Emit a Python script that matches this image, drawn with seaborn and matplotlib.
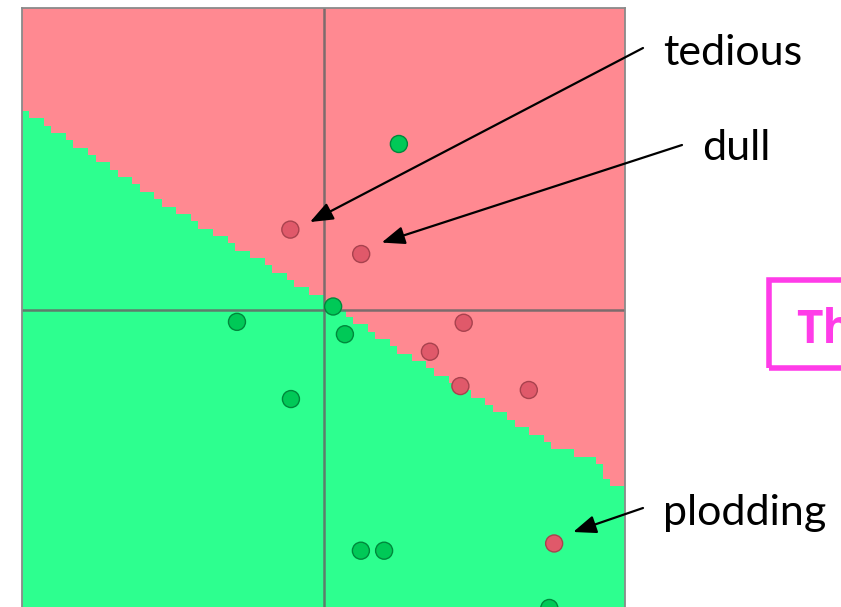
import numpy as np
import pandas as pd
import matplotlib
matplotlib.use("Agg")
import matplotlib.pyplot as plt
import seaborn as sns
from matplotlib.colors import ListedColormap
from matplotlib.patches import Rectangle

# -------------------------
# data (axes span -1..1 on both sides)
# -------------------------
green_x = [0.250, 0.032, -0.287, 0.071, -0.108, 0.124, 0.201, 0.749]
green_y = [0.549, 0.010, -0.041, -0.082, -0.297, -0.800, -0.800, -0.990]

red_x = [-0.110, 0.125, 0.465, 0.353, 0.454, 0.681, 0.765]
red_y = [0.265, 0.184, -0.044, -0.140, -0.254, -0.267, -0.776]

# decision boundary knots (left of/below -> green region)
boundary_x = [-1.0, -0.542, -0.012, 0.254, 0.585, 0.784, 0.910, 0.937, 1.0]
boundary_y = [0.665, 0.360, 0.041, -0.134, -0.343, -0.466, -0.489, -0.565, -0.589]

# annotated words: label, arrow tip (data), arrow tail (fig px), text anchor (fig px)
words = ["tedious", "dull", "plodding"]
word_tips = [(-0.045, 0.290), (0.193, 0.222), (0.828, -0.738)]
word_tails = [(643, 559), (682, 462), (643, 99)]
word_pos = [(663, 542), (702, 447), (663, 82)]

points = pd.DataFrame({
    "x": green_x + red_x,
    "y": green_y + red_y,
    "label": ["pos"] * len(green_x) + ["neg"] * len(red_x),
})

# -------------------------
# figure
# -------------------------
sns.set_style("white")
plt.rcParams["font.family"] = ["Lato", "DejaVu Sans"]

W, H = 841, 607
fig = plt.figure(figsize=(W / 100, H / 100), dpi=100)
ax = fig.add_axes([22 / W, (H - 611) / H, 603 / W, 603 / H])

# background region on a coarse grid
n = 82
edges = np.linspace(-1, 1, n + 1)
centers = (edges[:-1] + edges[1:]) / 2
gx, gy = np.meshgrid(centers, centers)
region = (gy > np.interp(gx, boundary_x, boundary_y)).astype(int)
cmap = ListedColormap(["#2dff8f", "#ff8991"])
ax.pcolormesh(edges, edges, region, cmap=cmap, vmin=0, vmax=1, zorder=0)

ax.axvline(0, color="#666666", lw=1.8, alpha=0.85, zorder=1)
ax.axhline(0, color="#666666", lw=1.8, alpha=0.85, zorder=1)

sns.scatterplot(data=points, x="x", y="y", hue="label",
                palette={"pos": "#00c957", "neg": "#e0596a"},
                s=150, linewidth=1.0, legend=False, ax=ax, zorder=3)
cols = points["label"].map({"pos": "#00883c", "neg": "#a8424e"})
ax.collections[-1].set_edgecolors(cols.tolist())

ax.set_xlim(-1, 1)
ax.set_ylim(-1, 1)
ax.set_xticks([])
ax.set_yticks([])
ax.set_xlabel("")
ax.set_ylabel("")
for sp in ax.spines.values():
    sp.set_color("#8a8a8a")
    sp.set_linewidth(1.3)

# annotations
for w, tip, tail, pos in zip(words, word_tips, word_tails, word_pos):
    ax.annotate("", xy=tip, xycoords="data", xytext=tail, textcoords="figure pixels",
                arrowprops=dict(arrowstyle="-|>,head_length=1.4,head_width=0.55",
                                color="black", lw=1.6, shrinkA=0, shrinkB=0),
                annotation_clip=False)
    fig.text(pos[0] / W, pos[1] / H, w, fontsize=31, color="black",
             ha="left", va="baseline")

# magenta box cut off at the right edge, as in the source slide
fig.patches.append(Rectangle((769 / W, (H - 368) / H), 200 / W, 88 / H,
                             transform=fig.transFigure, fill=False,
                             edgecolor="#ff3ce8", lw=4.0))
fig.text(796 / W, (H - 343) / H, "The", fontsize=33, fontweight="bold",
         family=["Open Sans", "DejaVu Sans"],
         color="#ff3ce8", ha="left", va="baseline")

fig.savefig("out.png", dpi=100)
